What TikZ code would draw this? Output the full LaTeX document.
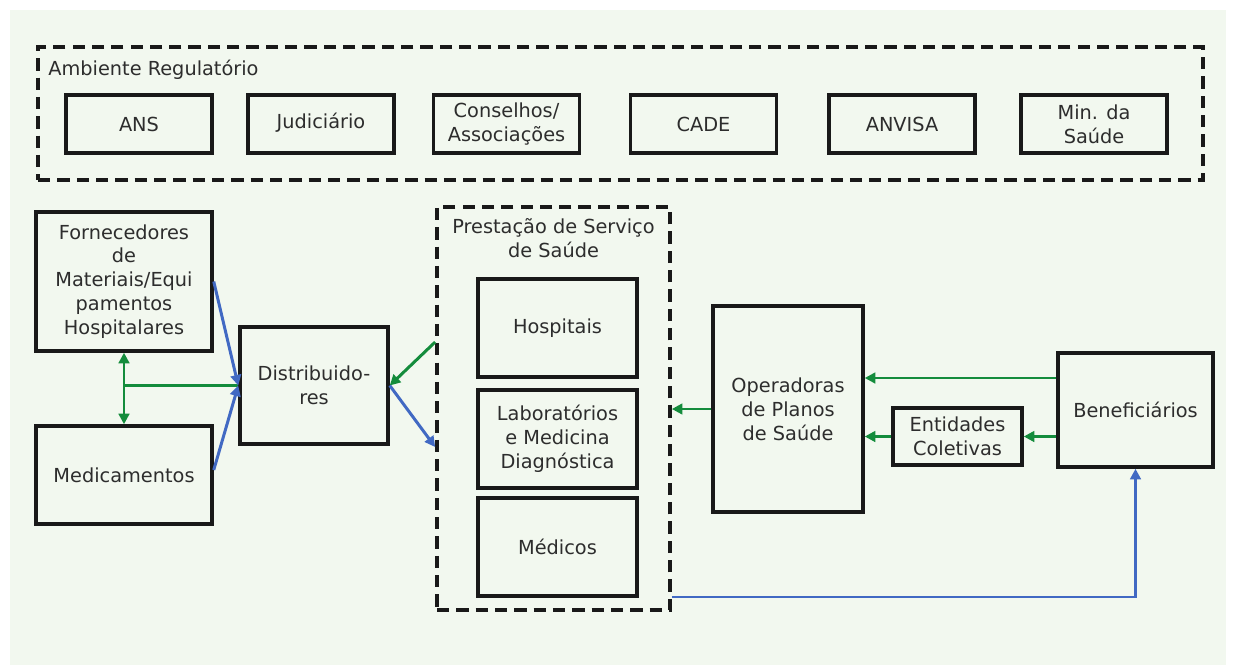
\documentclass[tikz,border=0pt]{standalone}
\usepackage{fontspec}
\setmainfont{DejaVu Sans}
\usetikzlibrary{arrows.meta,calc}
\definecolor{bggreen}{RGB}{242,248,239}
\definecolor{lgreen}{RGB}{20,140,60}
\definecolor{lblue}{RGB}{65,105,195}
\definecolor{txt}{RGB}{45,45,45}
\tikzset{
  box/.style={draw=black!90, line width=2pt, fill=none, align=center, inner sep=2pt, text=txt},
  dbox/.style={draw=black!90, line width=2.1pt, dash pattern=on 7pt off 4pt},
  garr/.style={draw=lgreen, line width=1.7pt, -{Triangle[length=6pt,width=6pt]}},
  gline/.style={draw=lgreen, line width=1.7pt},
  barr/.style={draw=lblue, line width=1.7pt, -{Triangle[length=6pt,width=6pt]}},
  lbl/.style={text=txt, align=center, inner sep=0pt}
}
\begin{document}
\begin{tikzpicture}[x=0.02cm,y=-0.02cm,font=\fontsize{11}{13.6}\selectfont]
\useasboundingbox (0,0) rectangle (1234,669);
\fill[bggreen] (10,10) rectangle (1226,665);
% Ambiente regulatorio
\node[dbox, minimum width=23.3cm, minimum height=2.66cm] (amb) at (620.5,113.5) {};
\node[lbl, anchor=west] (ambl) at (48,70) {Ambiente Regulatório};
\node[box, minimum width=2.92cm, minimum height=1.16cm] (ans) at (139,124) {ANS};
\node[box, minimum width=2.92cm, minimum height=1.16cm] (jud) at (321,124) {\strut Judiciário};
\node[box, minimum width=2.92cm, minimum height=1.16cm] (cons) at (506.5,124) {Conselhos/\\Associações};
\node[box, minimum width=2.92cm, minimum height=1.16cm] (cade) at (703.5,124) {CADE};
\node[box, minimum width=2.92cm, minimum height=1.16cm] (anvisa) at (902,124) {ANVISA};
\node[box, minimum width=2.92cm, minimum height=1.16cm] (min) at (1094,124) {Min. da\\Saúde};
% left side
\node[box, minimum width=3.52cm, minimum height=2.78cm] (forn) at (124,281.5) {Fornecedores\\de\\Materiais/Equi\\pamentos\\Hospitalares};
\node[box, minimum width=3.52cm, minimum height=1.96cm] (med) at (124,475) {Medicamentos};
\node[box, minimum width=2.96cm, minimum height=2.34cm] (dist) at (314,385.5) {Distribuido-\\res};
% prestacao
\node[dbox, minimum width=4.66cm, minimum height=8.06cm] (prest) at (553.5,408.5) {};
\node[lbl] (prestl) at (553.5,238) {Prestação de Serviço\\de Saúde};
\node[box, minimum width=3.18cm, minimum height=1.96cm] (hosp) at (557.5,328) {Hospitais};
\node[box, minimum width=3.18cm, minimum height=1.96cm] (lab) at (557.5,439) {Laboratórios\\e Medicina\\Diagnóstica};
\node[box, minimum width=3.18cm, minimum height=1.96cm] (medi) at (557.5,547) {Médicos};
% right side
\node[box, minimum width=3.0cm, minimum height=4.12cm] (oper) at (788,409) {Operadoras\\de Planos\\de Saúde};
\node[box, minimum width=2.58cm, minimum height=1.14cm] (ent) at (957.5,436.5) {Entidades\\Coletivas};
\node[box, minimum width=3.1cm, minimum height=2.28cm] (ben) at (1135.5,410) {Beneficiários};
% connectors
\coordinate (junc) at (forn.south |- dist.west);
\draw[gline] (junc) -- (dist.west);
\draw[draw=lgreen, line width=1.7pt, {Triangle[length=6pt,width=6pt]}-{Triangle[length=6pt,width=6pt]}] (forn.south) -- (med.north);
\draw[barr] (forn.east) -- (dist.west);
\draw[barr] ($(med.east)+(0,-5)$) -- (dist.west);
\draw[garr] ($(prest.west)+(0,-66.5)$) -- (dist.east);
\draw[barr] (dist.east) -- ($(prest.west)+(0,38.5)$);
\draw[garr] (oper.west) -- (prest.east |- oper.west);
\coordinate (benup) at ($(ben.west)+(0,-32)$);
\draw[garr] (benup) -- (oper.east |- benup);
\draw[garr] (ent.west) -- (oper.east |- ent.west);
\draw[garr] (ben.west |- ent.east) -- (ent.east);
\draw[barr] ($(prest.east)+(0,188.5)$) -| (ben.south);
\end{tikzpicture}
\end{document}
